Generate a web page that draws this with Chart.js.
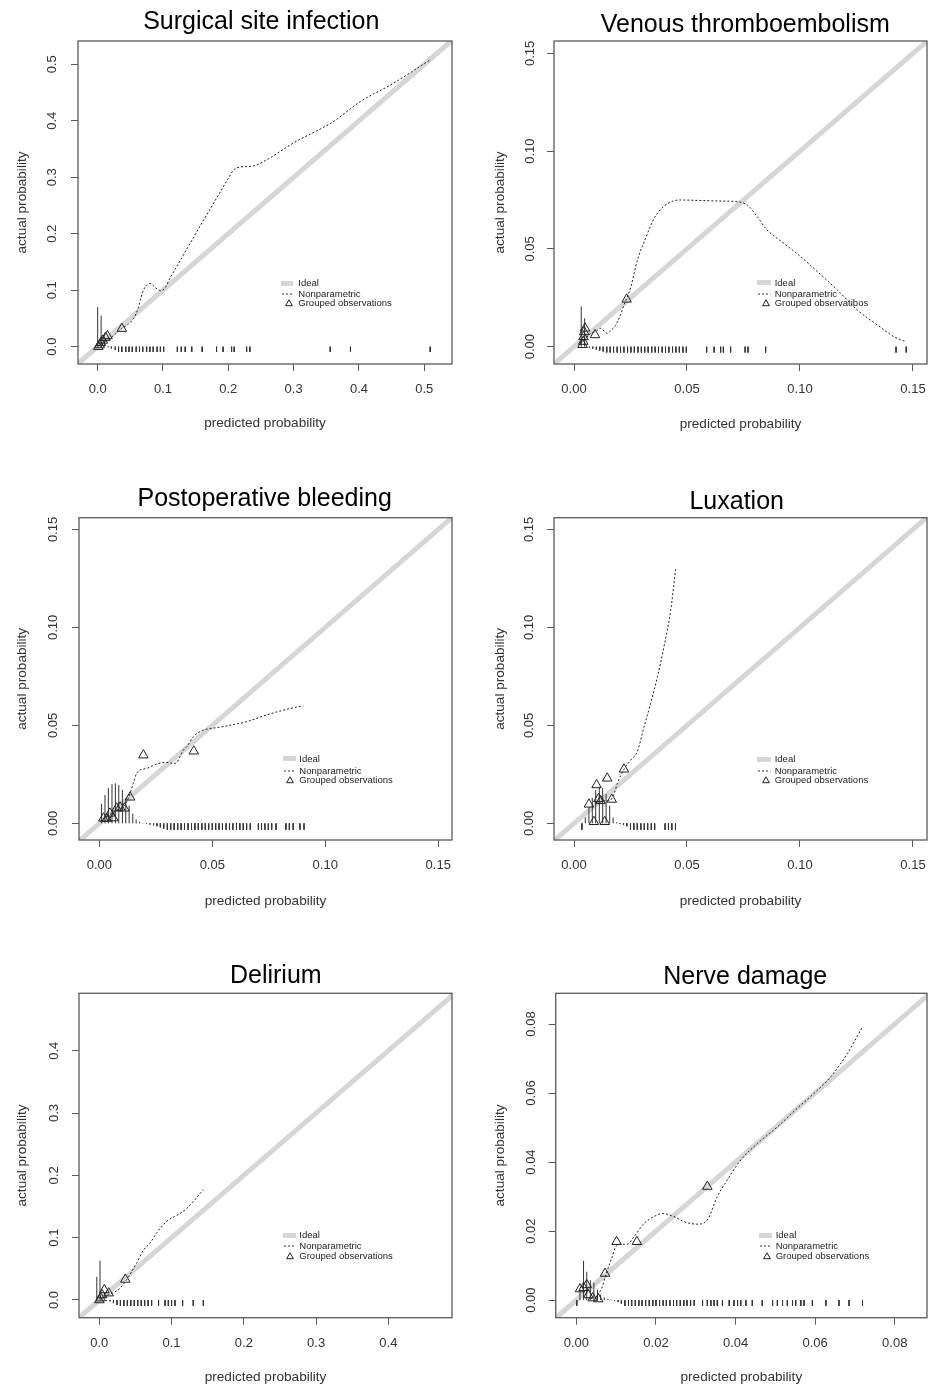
<!DOCTYPE html>
<html>
<head>
<meta charset="utf-8">
<title>Calibration plots</title>
<script src="https://cdn.jsdelivr.net/npm/chart.js@4.4.1/dist/chart.umd.min.js"></script>
<style>
  html, body { margin:0; padding:0; background:#fff; }
  body { position:relative; width:928px; height:1387px; overflow:hidden; font-family:'Liberation Sans', Arial, Helvetica, sans-serif; }
  .abs { position:absolute; }
  .ptitle { position:absolute; width:420px; text-align:center; font-size:25px; line-height:25px; color:#000; white-space:nowrap; }
  .lgtext { position:absolute; font-size:9.5px; line-height:10px; color:#222; white-space:nowrap; }
</style>
</head>
<body>
<script>
// ===================== DATA =====================
const panelTitles = ["Surgical site infection", "Venous thromboembolism", "Postoperative bleeding", "Luxation", "Delirium", "Nerve damage"];
const xAxisLabel = "predicted probability";
const yAxisLabel = "actual probability";
const legendIdeal = "Ideal";
const legendNonpar = "Nonparametric";
const legendGrouped = ["Grouped observations", "Grouped observatibos", "Grouped observations", "Grouped observations", "Grouped observations", "Grouped observations"];
const idealLine = [-1, 1]; // actual = predicted

// tick values and labels
const ssiTicks = [0, 0.1, 0.2, 0.3, 0.4, 0.5];
const ssiTickLabels = ["0.0", "0.1", "0.2", "0.3", "0.4", "0.5"];
const smallTicks = [0, 0.05, 0.10, 0.15];
const smallTickLabels = ["0.00", "0.05", "0.10", "0.15"];
const delTicks = [0, 0.1, 0.2, 0.3, 0.4];
const delTickLabels = ["0.0", "0.1", "0.2", "0.3", "0.4"];
const nerveTicks = [0, 0.02, 0.04, 0.06, 0.08];
const nerveTickLabels = ["0.00", "0.02", "0.04", "0.06", "0.08"];

// Surgical site infection
const ssiCurveX = [0.001,0.006,0.012,0.020,0.028,0.037,0.047,0.055,0.062,0.066,0.070,0.075,0.080,0.085,0.091,0.097,0.103,0.112,0.125,0.140,0.160,0.180,0.200,0.208,0.218,0.238,0.259,0.300,0.360,0.402,0.452,0.509];
const ssiCurveY = [0.001,0.005,0.010,0.016,0.023,0.032,0.040,0.050,0.068,0.085,0.100,0.109,0.112,0.108,0.102,0.099,0.104,0.124,0.150,0.180,0.220,0.259,0.298,0.313,0.318,0.320,0.331,0.361,0.398,0.434,0.466,0.508];
const ssiGroupX = [0.001,0.003,0.005,0.008,0.012,0.015,0.037];
const ssiGroupY = [0.000,0.003,0.007,0.011,0.016,0.019,0.032];
const ssiSpikeX = [0.000,0.0053,0.0106,0.016,0.021,0.027,0.032,0.037,0.043,0.048,0.053,0.059,0.064,0.069,0.075,0.080,0.085,0.091,0.096,0.101,0.122,0.128,0.134,0.144,0.160,0.182,0.192,0.205,0.209,0.228,0.233,0.356,0.387,0.509];
const ssiSpikeEnd = [0.070,0.055,0.012,-0.001,-0.003,-0.006,
  -0.0095,-0.0095,-0.0095,-0.0095,-0.0095,-0.0095,-0.0095,
  -0.0095,-0.0095,-0.0095,-0.0095,-0.0095,-0.0095,-0.0095,
  -0.0095,-0.0095,-0.0095,-0.0095,-0.0095,-0.0095,-0.0095,
  -0.0095,-0.0095,-0.0095,-0.0095,-0.0095,-0.0095,-0.0095];

// Venous thromboembolism
const vteCurveX = [0.003,0.005,0.0074,0.0096,0.0118,0.0133,0.0147,0.0165,0.0184,0.0205,0.0221,0.025,0.028,0.0317,0.0354,0.0398,0.044,0.0472,0.0546,0.0634,0.0723,0.0767,0.0811,0.0848,0.0929,0.1003,0.1077,0.1165,0.1254,0.1342,0.1416,0.1468];
const vteCurveY = [0.0017,0.004,0.0068,0.0077,0.0094,0.008,0.0068,0.0085,0.011,0.016,0.0213,0.030,0.044,0.0555,0.0655,0.0718,0.0745,0.0750,0.0748,0.0745,0.0741,0.0724,0.0665,0.0605,0.0528,0.046,0.0384,0.029,0.0187,0.0111,0.0051,0.0026];
const vteGroupX = [0.0038,0.0041,0.0042,0.0045,0.0049,0.0093,0.0233];
const vteGroupY = [0.0010,0.0026,0.0050,0.0075,0.0094,0.0060,0.0242];
const vteSpikeX = [0.0032,0.0047,0.0068,0.0083,0.0099,0.0114,0.0129,0.0145,0.0160,0.0175,0.0191,0.0206,0.0221,0.0237,0.0252,0.0267,0.0283,0.0298,0.0313,0.0328,0.0344,0.0359,0.0374,0.0390,0.0405,0.0420,0.0436,0.0451,0.0466,0.0482,0.0497,0.0587,0.0620,0.0649,0.0661,0.0693,0.0757,0.0770,0.0848,0.1425,0.1470];
const vteSpikeEnd = [0.0205,0.0145,-0.0005,-0.001,-0.0015,-0.002,-0.0025,
  -0.003,-0.003,-0.003,-0.003,-0.003,-0.003,-0.003,
  -0.003,-0.003,-0.003,-0.003,-0.003,-0.003,-0.003,
  -0.003,-0.003,-0.003,-0.003,-0.003,-0.003,-0.003,
  -0.003,-0.003,-0.003,-0.003,-0.003,-0.003,-0.003,
  -0.003,-0.003,-0.003,-0.003,-0.003,-0.003];

// Postoperative bleeding
const bleedCurveX = [0.0005,0.0032,0.0069,0.0106,0.0128,0.015,0.0165,0.018,0.0209,0.0254,0.0298,0.0327,0.0342,0.0357,0.0372,0.0387,0.0416,0.046,0.0475,0.0563,0.0652,0.074,0.0829,0.0903];
const bleedCurveY = [0.0008,0.0034,0.006,0.0085,0.0128,0.0204,0.0255,0.0272,0.028,0.0303,0.0311,0.0306,0.0310,0.034,0.0374,0.0391,0.0442,0.0476,0.048,0.0497,0.0519,0.0553,0.0582,0.060];
const bleedGroupX = [0.0018,0.0033,0.0047,0.0062,0.0077,0.0092,0.0111,0.0136,0.0195,0.0418];
const bleedGroupY = [0.0026,0.0024,0.0051,0.0027,0.0077,0.0082,0.0077,0.0133,0.0348,0.0368];
const bleedSpikeX = [0.0010,0.0025,0.0040,0.0056,0.0071,0.0086,0.0102,0.0117,0.0132,0.0148,0.0163,0.0178,0.0194,0.0209,0.0224,0.0240,0.0255,0.0270,0.0285,
  0.0301,0.0316,0.0331,0.0347,0.0362,0.0377,0.0393,0.0408,0.0423,0.0438,0.0454,0.0469,0.0484,0.0500,0.0515,0.0530,0.0545,0.0561,0.0576,0.0591,0.0607,0.0622,0.0637,0.0652,0.0668,
  0.0704,0.0718,0.0733,0.0748,0.0763,0.0782,0.0826,0.0841,0.0858,0.0888,0.0906];
const bleedSpikeEnd = [0.010,0.0145,0.018,0.020,0.0204,0.0196,0.017,0.0128,0.009,0.005,0.002,0.0008,0.0002,-0.0003,-0.0006,-0.001,-0.0015,-0.002,-0.0027,
  -0.0033,-0.0033,-0.0033,-0.0033,-0.0033,-0.0033,-0.0033,
  -0.0033,-0.0033,-0.0033,-0.0033,-0.0033,-0.0033,-0.0033,
  -0.0033,-0.0033,-0.0033,-0.0033,-0.0033,-0.0033,-0.0033,
  -0.0033,-0.0033,-0.0033,-0.0033,-0.0033,-0.0033,-0.0033,
  -0.0033,-0.0033,-0.0033,-0.0033,-0.0033,-0.0033,-0.0033,
  -0.0033];

// Luxation
const luxCurveX = [0.0095,0.0118,0.0140,0.0162,0.0177,0.0192,0.0221,0.0251,0.028,0.031,0.0339,0.0369,0.0398,0.0428,0.045];
const luxCurveY = [0.0105,0.011,0.0115,0.0119,0.015,0.0204,0.0276,0.0323,0.0366,0.0493,0.0612,0.0748,0.0901,0.1088,0.130];
const luxGroupX = [0.0066,0.0088,0.0100,0.0108,0.0118,0.0136,0.0147,0.0167,0.0221];
const luxGroupY = [0.0097,0.0008,0.0196,0.0125,0.0115,0.0008,0.0230,0.0122,0.0276];
const luxSpikeX = [0.0035,0.0050,0.0066,0.0081,0.0096,0.0112,0.0127,0.0142,0.0158,0.0173,0.0188,0.0204,0.0219,0.0234,0.0250,0.0265,0.0280,0.0296,0.0311,0.0326,0.0342,0.0357,0.0403,0.0418,0.0433,0.0449];
const luxSpikeEnd = [-0.0033,0.003,0.008,0.013,0.017,0.0187,0.018,0.015,0.009,0.003,0.0005,-0.0003,-0.0008,-0.0015,
  -0.0033,-0.0033,-0.0033,-0.0033,-0.0033,-0.0033,-0.0033,
  -0.0033,-0.0033,-0.0033,-0.0033,-0.0033];

// Delirium
const delCurveX = [0.002,0.006,0.012,0.020,0.028,0.035,0.042,0.052,0.061,0.070,0.079,0.093,0.104,0.112,0.122,0.130,0.144];
const delCurveY = [0.001,0.004,0.008,0.012,0.018,0.028,0.040,0.060,0.080,0.091,0.107,0.126,0.134,0.139,0.148,0.158,0.177];
const delGroupX = [0.000,0.002,0.004,0.007,0.013,0.036];
const delGroupY = [0.000,0.003,0.008,0.016,0.011,0.033];
const delSpikeX = [-0.0035,0.0010,0.0052,0.0100,0.0148,0.0196,0.0244,0.0292,0.0340,0.0388,0.0436,0.0484,0.0532,0.0580,0.0628,0.0676,0.0724,0.0820,0.0910,0.0955,0.1000,0.1047,0.1153,0.1300,0.1440];
const delSpikeEnd = [0.037,0.063,-0.0005,-0.001,-0.002,-0.005,-0.008,
  -0.0095,-0.0095,-0.0095,-0.0095,-0.0095,-0.0095,-0.0095,
  -0.0095,-0.0095,-0.0095,-0.0095,-0.0095,-0.0095,-0.0095,
  -0.0095,-0.0095,-0.0095,-0.0095];

// Nerve damage
const nerveCurveX = [0.0036,0.0047,0.0053,0.0065,0.0072,0.0078,0.009,0.0099,0.0111,0.0128,0.0145,0.017,0.0195,0.0216,0.0245,0.0271,0.0304,0.0329,0.0354,0.0379,0.0413,0.0455,0.0505,0.0555,0.0597,0.0639,0.0681,0.0719];
const nerveCurveY = [0.0005,0.0007,0.0014,0.0039,0.0065,0.0087,0.0126,0.0155,0.0162,0.0162,0.0184,0.0222,0.0242,0.0251,0.0242,0.0227,0.022,0.0232,0.030,0.0348,0.0406,0.0454,0.0502,0.0556,0.0599,0.0647,0.0715,0.0792];
const nerveGroupX = [0.0009,0.0018,0.0026,0.0030,0.0041,0.0055,0.0072,0.0101,0.0152,0.0329];
const nerveGroupY = [0.0032,0.0036,0.0044,0.0015,0.0006,0.0003,0.0077,0.0169,0.0169,0.0329];
const nerveSpikeX = [0.0001,0.0009,0.0018,0.0026,0.0035,0.0044,0.0053,0.0061,0.0070,0.0079,0.0087,0.0096,0.0105,0.0113,
  0.0122,0.0131,0.0139,0.0148,0.0157,0.0165,0.0174,0.0183,0.0192,0.0200,0.0209,0.0218,0.0226,0.0235,0.0244,0.0252,0.0261,0.0270,0.0278,0.0287,0.0296,
  0.0317,0.0329,0.0338,0.0346,0.0354,0.0367,0.0384,0.0396,0.0405,0.0413,0.0426,0.0442,0.0467,0.0493,0.0505,0.0518,0.0530,0.0543,0.0551,0.0564,0.0572,0.0593,0.0627,0.0660,0.0685,0.0719];
const nerveSpikeEnd = [-0.0017,0.003,0.0114,0.0082,0.0058,0.005,0.003,0.0016,0.0008,0.0004,0.0001,-0.0002,-0.0005,-0.001,
  -0.0017,-0.0017,-0.0017,-0.0017,-0.0017,-0.0017,-0.0017,
  -0.0017,-0.0017,-0.0017,-0.0017,-0.0017,-0.0017,-0.0017,
  -0.0017,-0.0017,-0.0017,-0.0017,-0.0017,-0.0017,-0.0017,
  -0.0017,-0.0017,-0.0017,-0.0017,-0.0017,-0.0017,-0.0017,
  -0.0017,-0.0017,-0.0017,-0.0017,-0.0017,-0.0017,-0.0017,
  -0.0017,-0.0017,-0.0017,-0.0017,-0.0017,-0.0017,-0.0017,
  -0.0017,-0.0017,-0.0017,-0.0017,-0.0017];

// ===================== PANEL TABLE (built from the arrays) =====================
const panels = [
  {title: panelTitles[0], cx: ssiCurveX, cy: ssiCurveY, gx: ssiGroupX, gy: ssiGroupY, sx: ssiSpikeX, se: ssiSpikeEnd, ticks: ssiTicks, labels: ssiTickLabels, grouped: legendGrouped[0]},
  {title: panelTitles[1], cx: vteCurveX, cy: vteCurveY, gx: vteGroupX, gy: vteGroupY, sx: vteSpikeX, se: vteSpikeEnd, ticks: smallTicks, labels: smallTickLabels, grouped: legendGrouped[1]},
  {title: panelTitles[2], cx: bleedCurveX, cy: bleedCurveY, gx: bleedGroupX, gy: bleedGroupY, sx: bleedSpikeX, se: bleedSpikeEnd, ticks: smallTicks, labels: smallTickLabels, grouped: legendGrouped[2]},
  {title: panelTitles[3], cx: luxCurveX, cy: luxCurveY, gx: luxGroupX, gy: luxGroupY, sx: luxSpikeX, se: luxSpikeEnd, ticks: smallTicks, labels: smallTickLabels, grouped: legendGrouped[3]},
  {title: panelTitles[4], cx: delCurveX, cy: delCurveY, gx: delGroupX, gy: delGroupY, sx: delSpikeX, se: delSpikeEnd, ticks: delTicks, labels: delTickLabels, grouped: legendGrouped[4]},
  {title: panelTitles[5], cx: nerveCurveX, cy: nerveCurveY, gx: nerveGroupX, gy: nerveGroupY, sx: nerveSpikeX, se: nerveSpikeEnd, ticks: nerveTicks, labels: nerveTickLabels, grouped: legendGrouped[5]}
];

// ===================== LAYOUT (positions / sizes) =====================
const layouts = [
  {canvas:[0,0,464,440], box:[78,41,452,364], xLim:[-0.0301,0.5424], yLim:[-0.0307,0.5413], yGap:25.5, yTitleX:22.0, xTitleY:423.5, titleXY:[261.3,29.3],
   legend:{textX:298.3, bar:[281,293.3], rows:[283.3,294,303.3], triX:288.7}},
  {canvas:[464,0,464,440], box:[554,41,927,364], xLim:[-0.00885,0.1562], yLim:[-0.00886,0.1563], yGap:23.5, yTitleX:499.8, xTitleY:424.5, titleXY:[745.3,32.3],
   legend:{textX:774.7, bar:[757.3,770.7], rows:[282.7,294,303.3], triX:765.7}},
  {canvas:[0,460,464,460], box:[79,517.7,452,840], xLim:[-0.009,0.1561], yLim:[-0.0085,0.156], yGap:25.2, yTitleX:22.5, xTitleY:901.7, titleXY:[264.7,506],
   legend:{textX:299.3, bar:[282.7,296], rows:[758.7,770.7,780], triX:290}},
  {canvas:[464,460,464,460], box:[554,517.7,927,840], xLim:[-0.00885,0.1562], yLim:[-0.0085,0.156], yGap:24.5, yTitleX:499.8, xTitleY:901.7, titleXY:[736.7,509],
   legend:{textX:774.7, bar:[757.3,770.7], rows:[759.3,770.7,780], triX:765.7}},
  {canvas:[0,930,464,457], box:[79,993.3,452,1317.7], xLim:[-0.0281,0.4881], yLim:[-0.0284,0.4921], yGap:24.8, yTitleX:22.5, xTitleY:1377.7, titleXY:[275.8,982.7],
   legend:{textX:299.3, bar:[282.7,296], rows:[1235.3,1246,1256], triX:290}},
  {canvas:[464,930,464,457], box:[555.7,993.3,927,1317.7], xLim:[-0.0052,0.0881], yLim:[-0.0051,0.0889], yGap:24.5, yTitleX:500.7, xTitleY:1377.7, titleXY:[745.3,984.3],
   legend:{textX:775.7, bar:[759,772.3], rows:[1235.3,1246,1255.7], triX:766.7}}
];

// ===================== STYLE =====================
const FONT = "'Liberation Sans', Arial, Helvetica, sans-serif";
Chart.defaults.font.family = FONT;
const TICK_LEN = 7, TICK_FONT = 13, AXIS_TITLE_FONT = 13.6;
const IDEAL_COLOR = '#d6d6d6', AXIS_COLOR = '#5a5a5a', TEXT_COLOR = '#333';
const measure = document.createElement('canvas').getContext('2d');
measure.font = TICK_FONT + 'px ' + FONT;

const boxPlugin = {
  id: 'plotBox',
  afterDatasetsDraw(chart) {
    const {ctx, chartArea: a} = chart;
    ctx.save();
    ctx.strokeStyle = AXIS_COLOR;
    ctx.lineWidth = 1.3;
    ctx.strokeRect(a.left, a.top, a.right - a.left, a.bottom - a.top);
    ctx.restore();
  }
};

const svgNS = 'http://www.w3.org/2000/svg';
function addLegend(grouped, L) {
  const [r0, r1, r2] = L.rows;
  const w = L.bar[1] - L.bar[0];
  const bar = document.createElement('div');
  bar.className = 'abs';
  Object.assign(bar.style, {left: L.bar[0] + 'px', top: (r0 - 2.5) + 'px', width: w + 'px', height: '5px', background: IDEAL_COLOR});
  document.body.appendChild(bar);

  const s1 = document.createElementNS(svgNS, 'svg');
  s1.setAttribute('width', w); s1.setAttribute('height', 4);
  s1.style.cssText = `position:absolute;left:${L.bar[0]}px;top:${r1 - 2}px`;
  const ln = document.createElementNS(svgNS, 'line');
  ln.setAttribute('x1', 1); ln.setAttribute('y1', 2); ln.setAttribute('x2', w); ln.setAttribute('y2', 2);
  ln.setAttribute('stroke', '#333'); ln.setAttribute('stroke-width', 1); ln.setAttribute('stroke-dasharray', '2 2');
  s1.appendChild(ln); document.body.appendChild(s1);

  const s2 = document.createElementNS(svgNS, 'svg');
  s2.setAttribute('width', 10); s2.setAttribute('height', 10);
  s2.style.cssText = `position:absolute;left:${L.triX - 5}px;top:${r2 - 5}px`;
  const tri = document.createElementNS(svgNS, 'polygon');
  tri.setAttribute('points', '5,1.8 8.4,7.7 1.6,7.7');
  tri.setAttribute('fill', 'none'); tri.setAttribute('stroke', '#222'); tri.setAttribute('stroke-width', 1);
  s2.appendChild(tri); document.body.appendChild(s2);

  [legendIdeal, legendNonpar, grouped].forEach((txt, k) => {
    const d = document.createElement('div');
    d.className = 'lgtext';
    d.textContent = txt;
    d.style.left = L.textX + 'px';
    d.style.top = (L.rows[k] - 5) + 'px';
    document.body.appendChild(d);
  });
}

panels.forEach((P, i) => {
  const G = layouts[i];
  const [cl, ct, cw, ch] = G.canvas;
  const [bx0, by0, bx1, by1] = G.box;

  const wrap = document.createElement('div');
  wrap.className = 'abs';
  Object.assign(wrap.style, {left: cl + 'px', top: ct + 'px', width: cw + 'px', height: ch + 'px'});
  const cv = document.createElement('canvas');
  cv.width = cw; cv.height = ch;
  cv.style.width = cw + 'px'; cv.style.height = ch + 'px'; cv.style.display = 'block';
  wrap.appendChild(cv);
  document.body.appendChild(wrap);

  const spikeData = [];
  const n = Math.min(P.sx.length, P.se.length);
  for (let k = 0; k < n; k++) {
    spikeData.push({x: P.sx[k], y: 0}, {x: P.sx[k], y: P.se[k]}, {x: P.sx[k], y: null});
  }
  const curve = P.cx.map((x, k) => ({x, y: P.cy[k]}));
  const groups = P.gx.map((x, k) => ({x, y: P.gy[k]}));
  const ideal = idealLine.map(v => ({x: v, y: v}));

  const widest = Math.max(...P.labels.map(t => measure.measureText(t).width));
  const yPad = G.yGap - TICK_LEN - widest / 2;
  const halfLH = AXIS_TITLE_FONT * 1.2 / 2;
  const yW = bx0 - cl, xH = ct + ch - by1;

  const tickCommon = {autoSkip: false, color: TEXT_COLOR, font: {size: TICK_FONT}, callback: (v, idx) => P.labels[idx]};
  const gridCommon = {drawOnChartArea: false, drawTicks: true, tickLength: TICK_LEN, color: AXIS_COLOR, lineWidth: 1};

  new Chart(cv, {
    type: 'line',
    data: {
      datasets: [
        {label: legendIdeal, data: ideal, borderColor: IDEAL_COLOR, borderWidth: 5, pointRadius: 0, clip: 0, order: 10},
        {label: 'risk distribution', data: spikeData, borderColor: '#333', borderWidth: 1, pointRadius: 0, spanGaps: false, order: 5},
        {label: legendNonpar, data: curve, borderColor: '#222', borderWidth: 1, borderDash: [2, 2], pointRadius: 0, cubicInterpolationMode: 'monotone', order: 2},
        {label: P.grouped, data: groups, showLine: false, pointStyle: 'triangle', pointRadius: 5.5, pointBorderWidth: 1,
         pointBorderColor: '#222', pointBackgroundColor: 'rgba(0,0,0,0)', order: 1}
      ]
    },
    options: {
      responsive: false, animation: false, events: [], devicePixelRatio: 1,
      layout: {autoPadding: false, padding: {left: 0, top: by0 - ct, right: cl + cw - bx1, bottom: 0}},
      plugins: {legend: {display: false}, tooltip: {enabled: false}, title: {display: false}},
      scales: {
        x: {
          type: 'linear', position: 'bottom', min: G.xLim[0], max: G.xLim[1],
          afterBuildTicks: s => { s.ticks = P.ticks.map(v => ({value: v})); },
          afterFit: s => { s.height = xH; s.paddingLeft = 0; s.paddingRight = 0; },
          ticks: Object.assign({}, tickCommon, {minRotation: 0, maxRotation: 0, padding: 11}),
          grid: gridCommon, border: {display: false},
          title: {display: true, text: xAxisLabel, color: TEXT_COLOR, font: {size: AXIS_TITLE_FONT},
                  padding: {top: 0, bottom: (ct + ch) - G.xTitleY - halfLH}}
        },
        y: {
          type: 'linear', position: 'left', min: G.yLim[0], max: G.yLim[1],
          afterBuildTicks: s => { s.ticks = P.ticks.map(v => ({value: v})); },
          afterFit: s => { s.width = yW; s.paddingTop = 0; s.paddingBottom = 0; },
          ticks: Object.assign({}, tickCommon, {minRotation: 90, maxRotation: 90, crossAlign: 'center', padding: yPad}),
          grid: gridCommon, border: {display: false},
          title: {display: true, text: yAxisLabel, color: TEXT_COLOR, font: {size: AXIS_TITLE_FONT},
                  padding: {top: G.yTitleX - cl - halfLH, bottom: 0}}
        }
      }
    },
    plugins: [boxPlugin]
  });

  const t = document.createElement('div');
  t.className = 'ptitle';
  t.textContent = P.title;
  t.style.left = (G.titleXY[0] - 210) + 'px';
  t.style.top = (G.titleXY[1] - 21.2) + 'px';
  document.body.appendChild(t);

  addLegend(P.grouped, G.legend);
});
</script>
</body>
</html>
